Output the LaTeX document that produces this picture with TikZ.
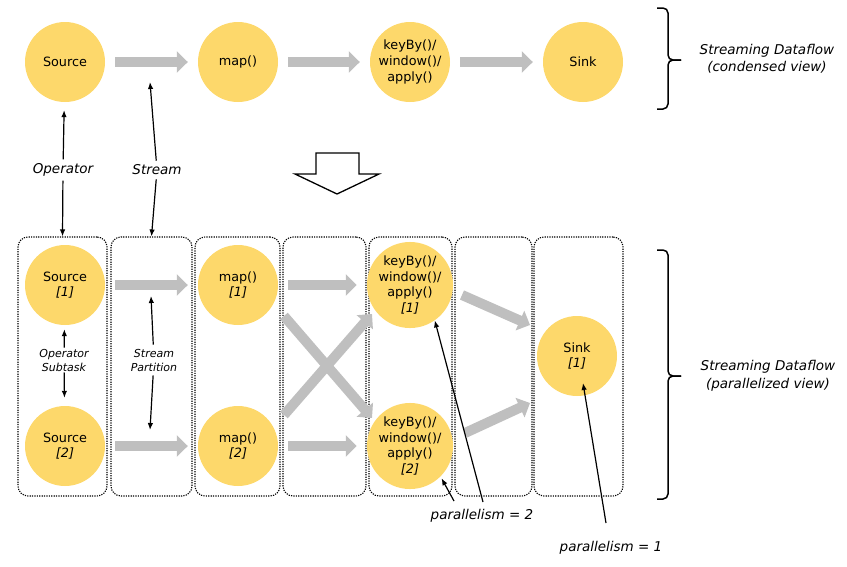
\documentclass[tikz,border=0pt]{standalone}
\usepackage{fontspec}
\setmainfont{DejaVu Sans}
\usetikzlibrary{arrows.meta,calc}
\definecolor{opfill}{HTML}{FDD86B}
\definecolor{flowgray}{HTML}{BFBFBF}
\begin{document}
\begin{tikzpicture}[x=1pt,y=-1pt,
  op/.style={circle, fill=opfill, minimum size=80pt, inner sep=0pt, align=center, font=\fontsize{12.8}{15.8}\selectfont},
  flow/.style={draw=flowgray, line width=10pt, -{Triangle[width=21pt,length=11pt]}, shorten <=10pt, shorten >=10pt},
  freeflow/.style={draw=flowgray, line width=10pt, -{Triangle[width=21pt,length=11pt]}},
  partbox/.style={draw, dash pattern=on 1.2pt off 1.2pt, line width=1.1pt, rounded corners=10pt, minimum height=259pt, inner sep=0pt},
  lbl/.style={font=\fontsize{13.5}{17.5}\selectfont\itshape, align=center, inner sep=1pt},
  smalllbl/.style={font=\fontsize{11}{14}\selectfont\itshape, align=center, inner sep=1pt},
  ptr/.style={-{Latex[length=7pt,width=5.5pt]}, line width=1.2pt},
  bracestyle/.style={line width=1.5pt, rounded corners=5pt}
]
\useasboundingbox (0,0) rectangle (847,566);

% ---------- condensed view ----------
\node[op] (src) at (65,62) {Source};
\node[op] (map) at (238,62) {map()};
\node[op] (kbw) at (410,62) {keyBy()/\\window()/\\apply()};
\node[op] (snk) at (583,62) {Sink};
\draw[flow] (src) -- (map);
\draw[flow] (map) -- (kbw);
\draw[flow] (kbw) -- (snk);

\draw[bracestyle] (657,8) -- (668,8) -- (668,60) -- (681,60);
\draw[bracestyle] (681,60) -- (668,60) -- (668,109) -- (657,109);
\node[lbl] (cv) at (767,59) {Streaming Dataflow\\(condensed view)};

% big hollow arrow
\draw[line width=1.3pt, fill=white] (316,153) -- (359,153) -- (359,174) -- (379,174) -- (337,194) -- (295,174) -- (316,174) -- cycle;

% ---------- parallelized view ----------
\node[partbox, minimum width=89pt] (b1) at (62.5,366.5) {};
\node[partbox, minimum width=81pt] (b2) at (151.5,366.5) {};
\node[partbox, minimum width=85pt] (b3) at (237.5,366.5) {};
\node[partbox, minimum width=83pt] (b4) at (324.5,366.5) {};
\node[partbox, minimum width=83pt] (b5) at (410.5,366.5) {};
\node[partbox, minimum width=77pt] (b6) at (493.5,366.5) {};
\node[partbox, minimum width=89pt] (b7) at (578.5,366.5) {};

\node[op] (s1) at (65,285) {Source\\\textit{[1]}};
\node[op] (s2) at (65,446) {Source\\\textit{[2]}};
\node[op] (m1) at (238,285) {map()\\\textit{[1]}};
\node[op] (m2) at (238,446) {map()\\\textit{[2]}};
\node[op] (k1) at (410,285) {keyBy()/\\window()/\\apply()\\\textit{[1]}};
\node[op] (k2) at (410,446) {keyBy()/\\window()/\\apply()\\\textit{[2]}};
\node[op] (sk) at (577,356) {Sink\\\textit{[1]}};

\draw[flow] (s1) -- (m1);
\draw[flow] (s2) -- (m2);
\draw[flow] (m1) -- (k1);
\draw[flow] (m2) -- (k2);
\draw[freeflow] ($(m1)+(46,31)$) -- ($(k2)+(-38,-28)$);
\draw[freeflow] ($(m2)+(46,-31)$) -- ($(k1)+(-38,29)$);
\draw[freeflow] ($(k1)+(52,10)$) -- ($(sk)+(-47,-31)$);
\draw[freeflow] ($(k2)+(55,-13)$) -- ($(sk)+(-47,47)$);

\draw[bracestyle] (657,250) -- (668,250) -- (668,376) -- (681,376);
\draw[bracestyle] (681,376) -- (668,376) -- (668,499) -- (657,499);
\node[lbl] (pv) at (768,376) {Streaming Dataflow\\(parallelized view)};

% ---------- labels and pointers ----------
\node[lbl] (oplbl) at (63,170) {Operator};
\node[lbl] (stlbl) at (157,170) {Stream};
\coordinate (stpt) at (150,82);
\draw[ptr, shorten >=8pt, shorten <=3pt] (oplbl) -- (src);
\draw[ptr, shorten <=3pt] (oplbl) -- (b1.north);
\draw[ptr, shorten <=3pt] (stlbl) -- (stpt);
\draw[ptr, shorten <=3pt] (stlbl) -- (b2.north);

\node[smalllbl] (osub) at (64,360) {Operator\\Subtask};
\draw[ptr, shorten >=4pt] (osub) -- (s1);
\draw[ptr, shorten >=8pt] (osub) -- (s2);

\node[smalllbl] (spart) at (154,360) {Stream\\Partition};
\coordinate (sp1) at (151,296);
\coordinate (sp2) at (150,430);
\draw[ptr, shorten <=3pt] (spart) -- (sp1);
\draw[ptr, shorten <=3pt] (spart) -- (sp2);

\node[lbl] (par2) at (482,516) {parallelism = 2};
\coordinate (p2a) at (454,501);
\coordinate (p2b) at (483,502);
\draw[ptr, shorten >=2pt] (p2a) -- (k2.-45);
\draw[ptr] (p2b) -- (k1.-55);

\node[lbl] (par1) at (611,548) {parallelism = 1};
\coordinate (p1a) at (606,523);
\coordinate (p1b) at (583,383);
\draw[ptr] (p1a) -- (p1b);
\end{tikzpicture}
\end{document}
